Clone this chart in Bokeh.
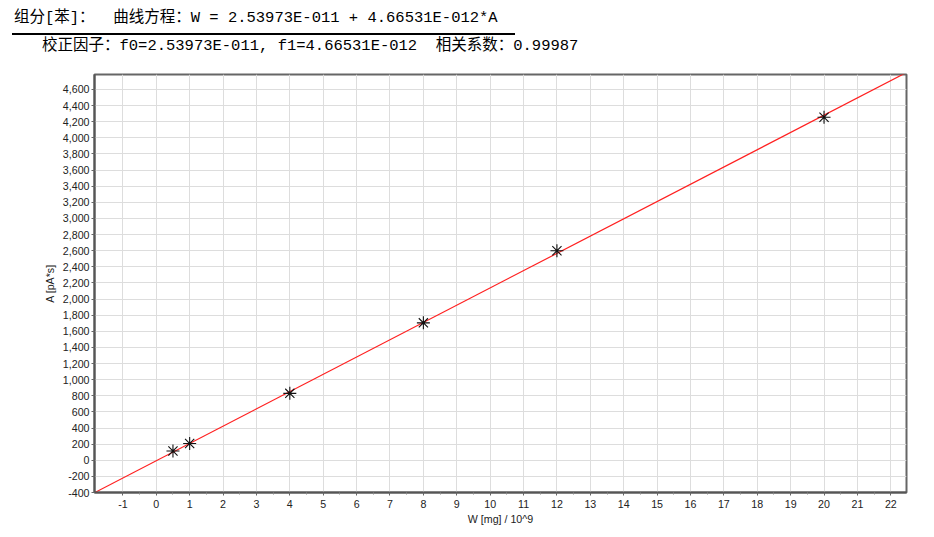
import numpy as np
from bokeh.plotting import figure
from bokeh.models import FixedTicker, NumeralTickFormatter, Range1d, Div
from bokeh.layouts import column
from bokeh.embed import file_html
from bokeh.resources import INLINE

# data
w_vals = [0.5, 1, 4, 8, 12, 20]
a_vals = [115, 207, 830, 1705, 2600, 4256]
f0 = 2.53973e-11
f1 = 4.66531e-12
x_ticks = list(range(-1, 23))
y_ticks = list(range(-400, 4601, 200))
title1 = "组分[苯]：  曲线方程：W = 2.53973E-011 + 4.66531E-012*A"
title2 = "校正因子：f0=2.53973E-011, f1=4.66531E-012  相关系数：0.99987"

XMIN, XMAX = -1.85, 22.47
YMIN, YMAX = -400, 4786

W = 926
HEAD_H = 60
FIG_H = 470

head = Div(width=W, height=HEAD_H, margin=(0, 0, 0, 0), text=(
    '<div style="position:relative;width:%dpx;height:%dpx;'
    'font-family:\'Liberation Mono\',\'Noto Sans CJK SC\',monospace;'
    'font-size:15.5px;color:#000000;white-space:pre;">'
    '<div style="position:absolute;left:14px;top:8px;line-height:20px;">%s</div>'
    '<div style="position:absolute;left:12px;top:33px;width:503px;height:2px;background:#000;"></div>'
    '<div style="position:absolute;left:42px;top:36px;line-height:20px;">%s</div>'
    '</div>') % (W, HEAD_H, title1, title2))

p = figure(width=W, height=FIG_H, output_backend="svg", toolbar_location=None,
           x_range=Range1d(XMIN, XMAX), y_range=Range1d(YMIN, YMAX),
           min_border_left=94, min_border_right=W - 906, min_border_top=74 - HEAD_H,
           min_border_bottom=HEAD_H + FIG_H - 492, margin=(0, 0, 0, 0))
p.outline_line_color = "#666666"
p.outline_line_width = 2

# fit line from the calibration equation: W*1e9 = f0*1e9 + f1*1e9*A
lx = np.array([XMIN, XMAX])
ly = (lx - f0 * 1e9) / (f1 * 1e9)
p.line(lx, ly, color="#ff2020", line_width=1.2)
p.scatter(w_vals, a_vals, marker="asterisk", size=13, line_color="#111111", line_width=1.1)

for ax in (p.xaxis[0], p.yaxis[0]):
    ax.major_label_text_font = "Liberation Sans"
    ax.major_label_text_font_size = "8pt"
    ax.major_label_text_color = "#222222"
    ax.axis_label_text_font = "Liberation Sans"
    ax.axis_label_text_font_size = "8pt"
    ax.axis_label_text_font_style = "normal"
    ax.axis_label_text_color = "#222222"
    ax.axis_line_color = "#555555"
    ax.axis_line_width = 2
    ax.major_tick_line_color = "#666666"
    ax.minor_tick_line_color = "#888888"
    ax.major_tick_out = 3
    ax.major_tick_in = 0
    ax.minor_tick_out = 2
    ax.minor_tick_in = 0

p.xaxis.ticker = FixedTicker(ticks=x_ticks, minor_ticks=[t + 0.5 for t in x_ticks])
p.yaxis.ticker = FixedTicker(ticks=y_ticks)
p.xaxis.formatter = NumeralTickFormatter(format="0")
p.yaxis.formatter = NumeralTickFormatter(format="0,0")
p.xaxis.axis_label = "W [mg] / 10^9"
p.yaxis.axis_label = "A [pA*s]"
p.xaxis.axis_label_standoff = 2
p.yaxis.axis_label_standoff = 4
p.xaxis.major_label_standoff = 4
p.yaxis.major_label_standoff = 2

p.xgrid.grid_line_color = "#dddddd"
p.ygrid.grid_line_color = "#dddddd"
p.xgrid.ticker = FixedTicker(ticks=x_ticks)
p.ygrid.ticker = FixedTicker(ticks=y_ticks)

layout = column(head, p, spacing=0, margin=(0, 0, 0, 0))
open("out.html", "w").write(file_html(layout, INLINE))
